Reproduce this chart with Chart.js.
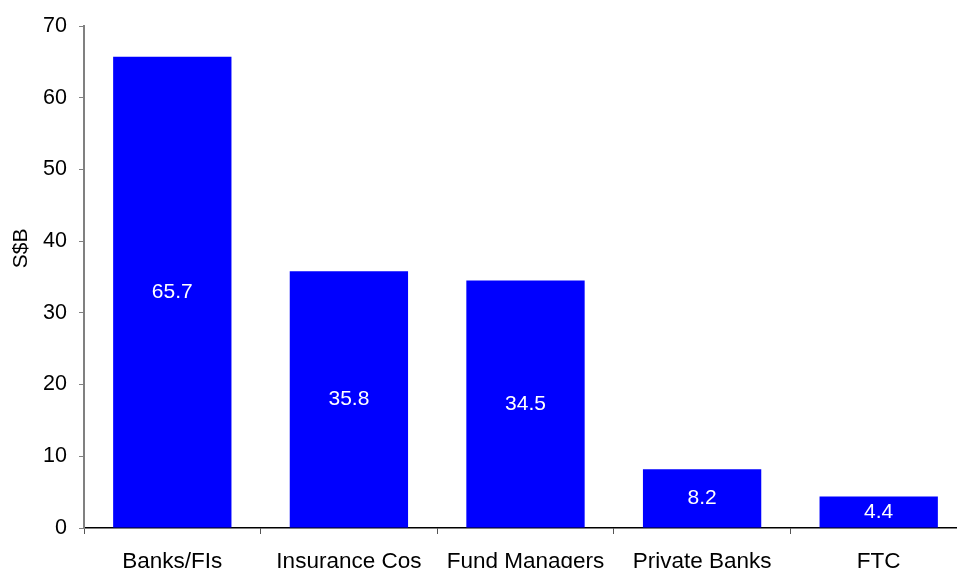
<!DOCTYPE html>
<html>
<head>
<meta charset="utf-8">
<script src="https://cdn.jsdelivr.net/npm/chart.js@4/dist/chart.umd.min.js"></script>
<style>
  html, body { margin: 0; padding: 0; background: #fff; overflow: hidden; width: 957px; height: 568px; }
  #wrap { position: relative; width: 957px; height: 568px; overflow: hidden; }
  #c { position: absolute; left: 0; top: 0; }
</style>
</head>
<body>
<div id="wrap"><canvas id="c" width="967" height="600"></canvas></div>
<script>
const categories = ["Banks/FIs", "Insurance Cos", "Fund Managers", "Private Banks", "FTC"];
const values = [65.7, 35.8, 34.5, 8.2, 4.4];
const yTitle = "S$B";
const FONT = "'Liberation Sans', Arial, sans-serif";

const valueLabels = {
  id: 'valueLabels',
  afterDatasetsDraw(chart) {
    const ctx = chart.ctx;
    const meta = chart.getDatasetMeta(0);
    ctx.save();
    ctx.fillStyle = '#ffffff';
    ctx.font = '21px ' + FONT;
    ctx.textAlign = 'center';
    ctx.textBaseline = 'middle';
    meta.data.forEach((bar, i) => {
      ctx.fillText(String(values[i]), bar.x, (bar.y + bar.base) / 2);
    });
    ctx.restore();
  }
};

const axisTitle = {
  id: 'axisTitle',
  afterDraw(chart) {
    const ctx = chart.ctx;
    const y = chart.scales.y.getPixelForValue(39);
    ctx.save();
    ctx.translate(21, y);
    ctx.rotate(-Math.PI / 2);
    ctx.fillStyle = '#000';
    ctx.font = '21px ' + FONT;
    ctx.textAlign = 'center';
    ctx.textBaseline = 'middle';
    ctx.fillText(yTitle, 0, 0);
    ctx.restore();
  }
};

new Chart(document.getElementById('c'), {
  type: 'bar',
  data: {
    labels: categories,
    datasets: [{
      data: values,
      backgroundColor: '#0000ff',
      borderWidth: 0,
      categoryPercentage: 1.0,
      barPercentage: 0.67
    }]
  },
  options: {
    responsive: false,
    animation: false,
    layout: { padding: { top: 26, right: 0, left: 0, bottom: 0 } },
    plugins: { legend: { display: false }, tooltip: { enabled: false } },
    scales: {
      x: {
        offset: true,
        grid: { offset: true, drawOnChartArea: false, tickLength: 6, color: '#000', tickColor: '#555' },
        border: { color: '#000', width: 1.5 },
        ticks: { color: '#000', font: { family: FONT, size: 22.5 }, padding: 14, maxRotation: 0, autoSkip: false },
        afterFit(scale) { scale.height = 72; }
      },
      y: {
        min: 0, max: 70,
        grid: { drawOnChartArea: false, tickLength: 5, color: '#808080', tickColor: '#808080' },
        border: { color: '#808080', width: 2 },
        ticks: { stepSize: 10, color: '#000', font: { family: FONT, size: 21.5 }, padding: 12 },
        afterFit(scale) { scale.width = 84; }
      }
    }
  },
  plugins: [valueLabels, axisTitle]
});
</script>
</body>
</html>
